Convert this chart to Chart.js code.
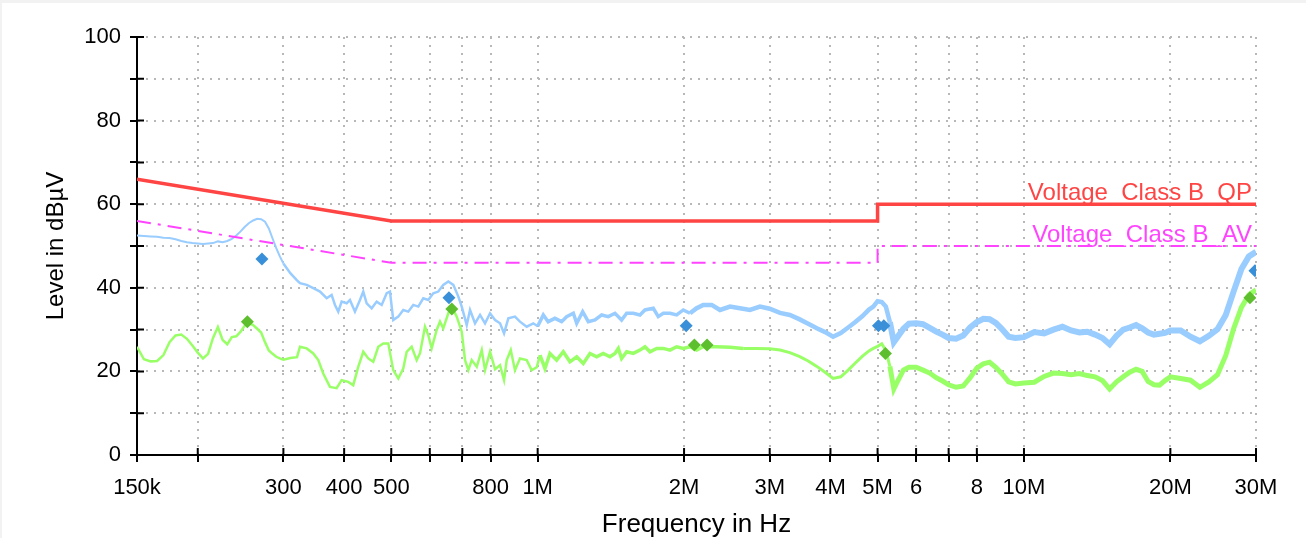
<!DOCTYPE html>
<html>
<head>
<meta charset="utf-8">
<script src="https://cdn.jsdelivr.net/npm/chart.js@4.4.1/dist/chart.umd.min.js"></script>
<style>
  html, body { margin: 0; padding: 0; background: #f2f2f2; }
  #wrap { position: absolute; left: 2px; top: 3px; width: 1304px; height: 535px; background: #fff; }
</style>
</head>
<body>
<div id="wrap"><canvas id="emi" width="1304" height="535"></canvas></div>
<script>
// peak detector trace: frequency (MHz) and level (dBuV)
const peakFreqMHz = [
  0.15, 0.155, 0.16, 0.165, 0.17, 0.175, 0.18, 0.185, 0.19, 0.195,
  0.2, 0.205, 0.21, 0.215, 0.22, 0.225, 0.23, 0.235, 0.24, 0.245,
  0.25, 0.255, 0.26, 0.265, 0.27, 0.275, 0.28, 0.285, 0.29, 0.295,
  0.3, 0.31, 0.32,
  0.3245, 0.335, 0.3456, 0.3568, 0.3682, 0.377, 0.383, 0.389, 0.3953, 0.4048,
  0.4111, 0.421, 0.4311, 0.4379, 0.445, 0.4557, 0.4666, 0.4778, 0.4893, 0.4969,
  0.5047, 0.5168, 0.5292, 0.5419, 0.5549, 0.5682, 0.5818, 0.5957, 0.61, 0.6247,
  0.6396, 0.655, 0.6708, 0.6869, 0.698, 0.7147, 0.726, 0.7434, 0.7612, 0.7794,
  0.7981, 0.8173, 0.8368, 0.8528, 0.8703, 0.8981, 0.9196, 0.9493, 0.9794, 1.0,
  1.027, 1.051, 1.085, 1.12, 1.147, 1.184, 1.203, 1.2375, 1.271, 1.312,
  1.354, 1.397, 1.442, 1.488, 1.524, 1.5725, 1.623, 1.662, 1.729, 1.77,
  1.8125, 1.871, 1.931, 1.9925, 2.057, 2.123, 2.19, 2.279, 2.371, 2.486,
  2.606, 2.732, 2.865, 3.0,
  3.15, 3.3, 3.45, 3.6, 3.75, 3.9, 4.05, 4.2, 4.35, 4.5, 4.65,
  4.8, 4.9, 5.0, 5.1, 5.2, 5.3, 5.4, 5.5, 5.65, 5.8,
  6.0, 6.2, 6.4, 6.6, 6.8, 7.0,
  7.25, 7.5, 7.75, 8.0, 8.25, 8.5, 8.75, 9.0, 9.3, 9.6,
  10, 10.5, 11, 11.5, 12, 12.5, 13, 13.5, 14, 14.5,
  15, 15.5, 16, 16.5, 17, 17.5, 18, 18.5, 19, 19.5,
  20, 21, 22, 23, 24, 25, 26, 27, 28, 29, 30
];
const peakLevel = [
  52.5, 52.4, 52.3, 52.2, 52.0, 51.9, 51.6, 51.2, 50.9, 50.7,
  50.6, 50.5, 50.6, 50.7, 51.1, 50.9, 51.2, 51.7, 52.5, 53.5,
  54.6, 55.5, 56.1, 56.5, 56.4, 55.8, 54.2, 51.8, 49.5, 47.5,
  45.8, 43.5, 41.8,
  41.1, 40.7, 39.9, 39.1, 37.5, 38.3, 35.9, 34.3, 36.7, 36.3,
  37.1, 34.3, 37.1, 39.1, 36.3, 35.1, 36.7, 35.9, 38.7, 39.1,
  32.3, 33.1, 34.7, 34.3, 35.9, 35.5, 37.5, 37.1, 38.7, 39.1,
  40.7, 41.5, 40.7, 37.9, 35.5, 31.1, 34.7, 31.5, 33.5, 31.5,
  33.9, 32.3, 31.5, 29.1, 32.7, 33.1, 31.9, 30.7, 31.5, 30.8,
  33.5, 31.9, 32.7, 31.9, 33.1, 33.9, 31.5, 34.3, 31.9, 32.3,
  33.5, 33.1, 33.9, 32.3, 33.9, 33.9, 33.5, 34.7, 35.1, 33.1,
  33.9, 33.9, 33.5, 34.7, 33.9, 35.1, 35.9, 35.9, 34.7, 35.5,
  35.1, 34.7, 35.5, 35.0,
  34.0, 33.5, 32.5, 31.4, 30.3, 29.4, 28.3, 29.2, 30.5, 31.8, 33.2,
  34.8, 35.5, 36.8, 36.6, 35.5, 31.8, 27.0, 28.3, 30.2, 31.4,
  31.5, 31.3, 30.4, 29.5, 28.8, 28.0,
  27.8, 28.6, 30.5, 31.8, 32.6, 32.5, 31.6, 30.2, 28.3, 28.0,
  28.2, 29.4, 29.1, 30.0, 30.7, 29.8, 29.3, 29.5, 28.8, 28.0,
  26.5, 28.5, 30.0, 30.5, 31.1, 30.3, 29.3, 28.8, 29.0, 29.2,
  29.8, 29.8, 28.3, 27.2, 28.5, 30.1, 33.5, 39.2, 44.5, 47.5, 48.6
];
// average detector trace: frequency (MHz) and level (dBuV)
const avgFreqMHz = [
  0.15, 0.155, 0.16, 0.165, 0.17, 0.175, 0.18, 0.185, 0.19, 0.195,
  0.2, 0.205, 0.21, 0.215, 0.22, 0.225, 0.23, 0.235, 0.24, 0.245,
  0.25, 0.255, 0.26, 0.265, 0.27, 0.275, 0.28, 0.285, 0.29, 0.295,
  0.3, 0.31, 0.32,
  0.3245, 0.335, 0.3456, 0.3539, 0.3623, 0.374, 0.386, 0.3953, 0.4078, 0.4176,
  0.4276, 0.4379, 0.4484, 0.4591, 0.4701, 0.4814, 0.4929, 0.5047, 0.5168, 0.5292,
  0.5378, 0.5507, 0.5639, 0.5728, 0.5865, 0.5957, 0.6054, 0.6199, 0.6297, 0.6396,
  0.655, 0.6657, 0.6817, 0.698, 0.709, 0.7202, 0.7318, 0.7494, 0.7674, 0.7794,
  0.7981, 0.8173, 0.8368, 0.8528, 0.8637, 0.8804, 0.8981, 0.9196, 0.9493, 0.972,
  0.9953,
  1.011, 1.035, 1.06, 1.094, 1.129, 1.165, 1.203, 1.241, 1.281, 1.322,
  1.364, 1.408, 1.442, 1.465, 1.488, 1.524, 1.5725, 1.623, 1.662, 1.702,
  1.757, 1.8125, 1.871, 1.931, 1.9925, 2.057, 2.123, 2.19, 2.334, 2.486,
  2.647, 2.82, 3.0,
  3.15, 3.3, 3.45, 3.6, 3.75, 3.9, 4.05, 4.2, 4.35, 4.5, 4.65,
  4.8, 4.9, 5.0, 5.1, 5.2, 5.3, 5.4, 5.5, 5.65, 5.8,
  6.0, 6.2, 6.4, 6.6, 6.8, 7.0,
  7.25, 7.5, 7.75, 8.0, 8.25, 8.5, 8.75, 9.0, 9.3, 9.6,
  10, 10.5, 11, 11.5, 12, 12.5, 13, 13.5, 14, 14.5,
  15, 15.5, 16, 16.5, 17, 17.5, 18, 18.5, 19, 19.5,
  20, 21, 22, 23, 24, 25, 26, 27, 28, 29, 30
];
const avgLevel = [
  25.9, 22.9, 22.4, 22.5, 23.9, 27.0, 28.6, 28.8, 27.8, 26.2,
  24.5, 23.1, 24.2, 28.0, 30.6, 27.5, 26.5, 28.2, 28.4, 29.5,
  31.0, 31.5, 31.1, 30.2, 29.3, 27.0, 25.0, 24.2, 23.5, 23.1,
  22.8, 23.2, 23.4,
  25.9, 25.5, 24.3, 22.7, 19.5, 16.3, 16.0, 17.9, 17.5, 16.7,
  21.1, 24.7, 23.1, 22.3, 25.9, 26.7, 26.7, 20.3, 18.3, 20.7,
  24.7, 25.9, 22.7, 24.3, 30.7, 28.7, 25.5, 29.9, 31.9, 30.3,
  33.9, 35.5, 33.1, 29.5, 22.7, 20.3, 22.7, 21.1, 25.1, 20.3,
  24.7, 20.5, 21.5, 17.9, 22.7, 25.1, 20.3, 23.1, 22.7, 20.3,
  21.0,
  23.9, 20.7, 24.3, 22.7, 24.7, 22.3, 23.5, 21.9, 24.3, 23.5,
  24.3, 23.5, 24.3, 25.5, 23.1, 24.7, 24.3, 25.1, 25.9, 24.7,
  25.5, 25.5, 25.1, 25.9, 25.5, 25.9, 25.1, 25.9, 25.9, 25.8,
  25.5, 25.5, 25.4,
  25.1, 24.5, 23.6, 22.5, 21.2, 19.8, 18.3, 18.7, 20.3, 22.0, 23.6,
  24.9, 25.5, 26.0, 26.6, 25.0, 21.2, 15.8, 17.7, 20.3, 21.0,
  21.0, 20.3, 19.6, 18.5, 17.7, 16.8,
  16.2, 16.5, 18.5, 20.8, 21.8, 22.2, 21.0, 19.5, 17.5, 17.0,
  17.2, 17.4, 18.8, 19.6, 19.5, 19.2, 19.5, 19.0, 18.7, 17.8,
  15.8, 17.5, 18.7, 19.8, 20.5, 20.0, 17.6, 16.8, 16.7, 17.8,
  18.7, 18.3, 17.9, 16.2, 17.5, 19.2, 23.8, 30.3, 35.3, 38.3, 39.5
];
// limit lines
const limitFreqMHz = [0.15, 0.5, 5, 5, 30];
const limitQP = [66, 56, 56, 60, 60];
const limitAV = [56, 46, 46, 50, 50];
const limitNames = ['Voltage_Class B_QP', 'Voltage_Class B_AV'];
// final measurement markers
const peakMarkFreqMHz = [0.271, 0.657, 2.02, 5.02, 5.15, 29.85];
const peakMarkLevel = [46.9, 37.6, 30.9, 30.9, 30.9, 44.1];
const avgMarkFreqMHz = [0.253, 0.666, 2.1, 2.23, 5.19, 29.15];
const avgMarkLevel = [31.9, 34.9, 26.3, 26.3, 24.3, 37.6];
// axes
const xTickMHz = [0.15, 0.2, 0.3, 0.4, 0.5, 0.6, 0.7, 0.8, 1, 2, 3, 4, 5, 6, 7, 8, 10, 20, 30];
const xTickLabels = ['150k', '', '300', '400', '500', '', '', '800', '1M', '2M', '3M', '4M', '5M', '6', '', '8', '10M', '20M', '30M'];
const yTicks = [0, 10, 20, 30, 40, 50, 60, 70, 80, 90, 100];
const yTickLabels = ['0', '', '20', '', '40', '', '60', '', '80', '', '100'];

const FONT = '"Liberation Sans", Arial, sans-serif';
Chart.defaults.font.family = FONT;

function pts(fs, ls) {
    return fs.map((f, i) => ({ x: f * 1e6, y: ls[i] }));
}

// tick marks also reach a little into the plot, like the original
const innerTicks = {
    id: 'innerTicks',
    afterDraw(chart) {
        const { ctx, chartArea } = chart;
        const sx = chart.scales.x, sy = chart.scales.y;
        ctx.save();
        ctx.strokeStyle = '#000';
        ctx.lineWidth = 2;
        ctx.beginPath();
        sx.ticks.forEach(t => {
            const px = sx.getPixelForValue(t.value);
            ctx.moveTo(px, chartArea.bottom);
            ctx.lineTo(px, chartArea.bottom - 7);
        });
        sy.ticks.forEach(t => {
            const py = sy.getPixelForValue(t.value);
            ctx.moveTo(chartArea.left, py);
            ctx.lineTo(chartArea.left + 7, py);
        });
        ctx.stroke();
        ctx.restore();
    }
};

// names of the limit lines, above their right end
const limitLabels = {
    id: 'limitLabels',
    afterDatasetsDraw(chart) {
        const { ctx } = chart;
        const sx = chart.scales.x, sy = chart.scales.y;
        const last = limitFreqMHz.length - 1;
        const xr = sx.getPixelForValue(limitFreqMHz[last] * 1e6) - 4;
        ctx.save();
        ctx.font = '24px ' + FONT;
        ctx.textAlign = 'right';
        ctx.textBaseline = 'alphabetic';
        ctx.fillStyle = '#ff4444';
        ctx.fillText(limitNames[0], xr, sy.getPixelForValue(limitQP[last]) - 4);
        ctx.fillStyle = '#ff44ff';
        ctx.fillText(limitNames[1], xr, sy.getPixelForValue(limitAV[last]) - 4);
        ctx.restore();
    }
};

const ctx = document.getElementById('emi').getContext('2d');
const emiChart = new Chart(ctx, {
    type: 'line',
    data: {
        datasets: [{
            label: 'Peak markers',
            data: pts(peakMarkFreqMHz, peakMarkLevel),
            showLine: false,
            pointStyle: 'rectRot',
            pointRadius: 6.5,
            pointBackgroundColor: '#3a90d8',
            pointBorderWidth: 0,
            order: 0
        }, {
            label: 'Average markers',
            data: pts(avgMarkFreqMHz, avgMarkLevel),
            showLine: false,
            pointStyle: 'rectRot',
            pointRadius: 6.5,
            pointBackgroundColor: '#5ebf2e',
            pointBorderWidth: 0,
            order: 0
        }, {
            label: 'QP limit',
            data: pts(limitFreqMHz, limitQP),
            borderColor: '#ff4444',
            borderWidth: 3.5,
            pointRadius: 0,
            order: 1
        }, {
            label: 'AV limit',
            data: pts(limitFreqMHz, limitAV),
            borderColor: '#ff44ff',
            borderWidth: 2,
            borderDash: [14, 7, 3, 7],
            pointRadius: 0,
            order: 1
        }, {
            label: 'Average',
            data: pts(avgFreqMHz, avgLevel),
            borderColor: '#99ff66',
            borderJoinStyle: 'miter',
            pointRadius: 0,
            segment: {
                borderWidth: c => {
                    const f = c.p0.parsed.x;
                    return f < 1e6 ? 2.5 : f < 2.5e6 ? 3.5 : f < 5.3e6 ? 3 : 5;
                }
            },
            order: 2
        }, {
            label: 'Peak',
            data: pts(peakFreqMHz, peakLevel),
            borderColor: '#99ccff',
            borderJoinStyle: 'miter',
            pointRadius: 0,
            segment: {
                borderWidth: c => {
                    const f = c.p0.parsed.x;
                    return f < 0.3e6 ? 2 : f < 1e6 ? 2.5 : f < 2e6 ? 3.5 : f < 5.3e6 ? 4.5 : 6;
                }
            },
            order: 3
        }]
    },
    options: {
        responsive: false,
        animation: false,
        devicePixelRatio: 1,
        layout: { padding: { left: 0, top: 34, right: 50, bottom: 0 } },
        plugins: { legend: { display: false }, tooltip: { enabled: false } },
        scales: {
            x: {
                type: 'logarithmic',
                min: 150000,
                max: 30000000,
                afterBuildTicks: s => { s.ticks = xTickMHz.map(v => ({ value: v * 1e6 })); },
                afterFit: s => { s.height = 83; },
                ticks: {
                    autoSkip: false,
                    maxRotation: 0,
                    padding: 13,
                    color: '#000',
                    font: { size: 22 },
                    callback: (v, i) => xTickLabels[i]
                },
                grid: { color: '#b8b8b8', lineWidth: 2, tickColor: '#000', tickWidth: 2, tickLength: 7 },
                border: { color: '#000', width: 2, dash: [2, 6] },
                title: {
                    display: true,
                    text: 'Frequency in Hz',
                    color: '#000',
                    font: { size: 26, lineHeight: 1 },
                    padding: { top: 0, bottom: 0 }
                }
            },
            y: {
                min: 0,
                max: 100,
                afterBuildTicks: s => { s.ticks = yTicks.map(v => ({ value: v })); },
                afterFit: s => { s.width = 135; },
                ticks: {
                    padding: 9,
                    color: '#000',
                    font: { size: 22 },
                    callback: (v, i) => yTickLabels[i]
                },
                grid: { color: '#b8b8b8', lineWidth: 2, tickColor: '#000', tickWidth: 2, tickLength: 7 },
                border: { color: '#000', width: 2, dash: [2, 6] },
                title: {
                    display: true,
                    text: 'Level in dBµV',
                    color: '#000',
                    font: { size: 24, lineHeight: 1 },
                    padding: { top: 42, bottom: 0 }
                }
            }
        }
    },
    plugins: [innerTicks, limitLabels]
});
</script>
</body>
</html>
